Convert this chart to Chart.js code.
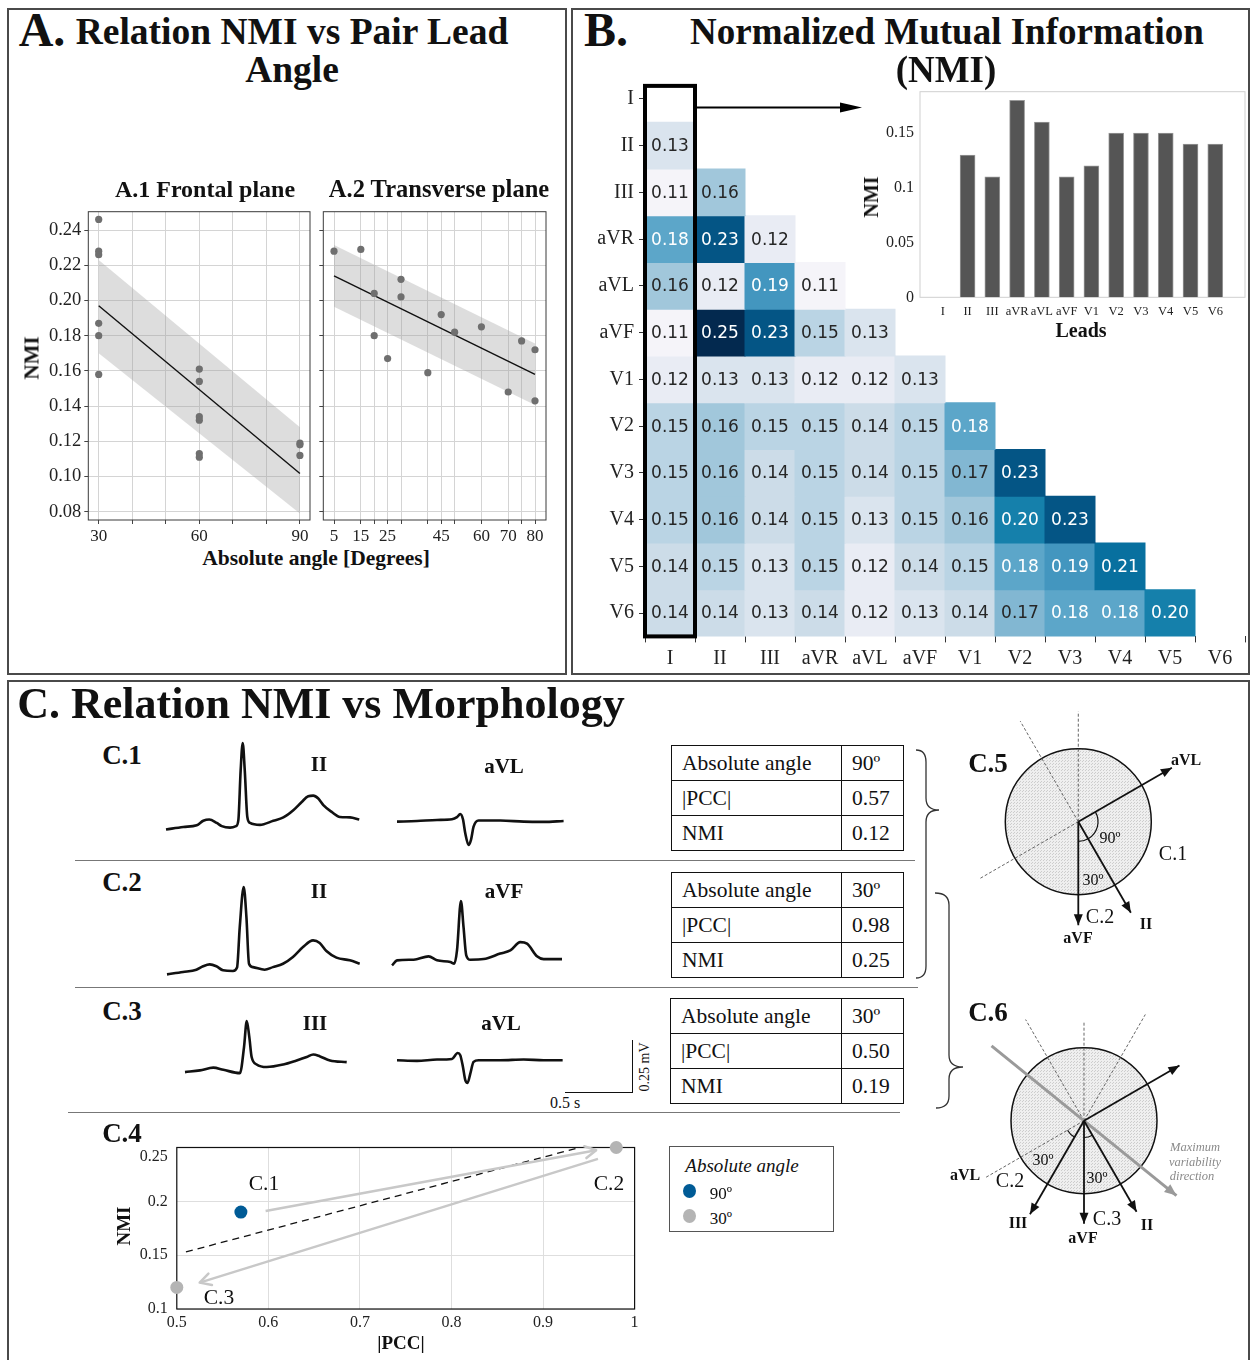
<!DOCTYPE html>
<html>
<head>
<meta charset="utf-8">
<title>NMI vs lead angle and morphology</title>
<script src="https://cdn.jsdelivr.net/npm/chart.js@4.4.1/dist/chart.umd.min.js"></script>
<style>
  body { margin: 0; background: #fff; }
  #page { position: relative; width: 1250px; height: 1360px; overflow: hidden; background: #fff;
          font-family: 'Liberation Serif', serif; color: #111; }
  #page canvas { position: absolute; }
  .frame { position: absolute; border: 2px solid #4a4a4a; box-sizing: border-box; }
  .lbl { position: absolute; white-space: nowrap; line-height: 1; }
  .rule { position: absolute; height: 0; border-top: 1.5px solid #777; }
  table.tb { position: absolute; border-collapse: collapse; font-size: 21.5px; }
  table.tb td { border: 1.5px solid #111; height: 34px; padding: 0 0 0 10px; }
  .dot { position: absolute; width: 13px; height: 14px; border-radius: 50%; }
</style>
</head>
<body>
<div id="page">
  <div class="frame" style="left:7px;top:8px;width:560px;height:667px"></div>
  <div class="frame" style="left:571px;top:8px;width:679px;height:667px"></div>
  <div class="frame" style="left:7px;top:680px;width:1243px;height:690px"></div>

  <div class="rule" style="left:75px;top:860px;width:840px"></div>
  <div class="rule" style="left:75px;top:987px;width:843px"></div>
  <div class="rule" style="left:68px;top:1112px;width:832px"></div>

  <!-- ECG scale bar -->
  <div style="position:absolute;left:565px;top:1092px;width:68px;border-top:1.5px solid #111"></div>
  <div style="position:absolute;left:632px;top:1040px;height:53px;border-left:1.5px solid #111"></div>

  <table class="tb" style="left:671px;top:745px;width:233px">
    <tr><td style="width:159px">Absolute angle</td><td>90º</td></tr>
    <tr><td>|PCC|</td><td>0.57</td></tr>
    <tr><td>NMI</td><td>0.12</td></tr>
  </table>
  <table class="tb" style="left:671px;top:872px;width:233px">
    <tr><td style="width:159px">Absolute angle</td><td>30º</td></tr>
    <tr><td>|PCC|</td><td>0.98</td></tr>
    <tr><td>NMI</td><td>0.25</td></tr>
  </table>
  <table class="tb" style="left:670px;top:998px;width:234px">
    <tr><td style="width:160px">Absolute angle</td><td>30º</td></tr>
    <tr><td>|PCC|</td><td>0.50</td></tr>
    <tr><td>NMI</td><td>0.19</td></tr>
  </table>

  <svg style="position:absolute;left:0;top:0" width="1250" height="1360">
    <path d="M916,750 Q926,750 926,762 L926,798 Q926,810 939,810 Q926,810 926,822 L926,966 Q926,978 916,978"
          fill="none" stroke="#333" stroke-width="1.3"/>
    <path d="M935,893 Q949,893 949,905 L949,1055 Q949,1067 963,1067 Q949,1067 949,1079 L949,1096 Q949,1108 936,1108"
          fill="none" stroke="#333" stroke-width="1.3"/>
  </svg>

  <!-- C.4 legend -->
  <div style="position:absolute;left:669px;top:1146px;width:165px;height:86px;border:1px solid #555;box-sizing:border-box"></div>
  <div class="dot" style="left:683px;top:1184px;background:#005b96"></div>
  <div class="dot" style="left:683px;top:1209px;background:#b4b4b4"></div>
</div>

<script>
// ── Data ──
const leads = ['I', 'II', 'III', 'aVR', 'aVL', 'aVF', 'V1', 'V2', 'V3', 'V4', 'V5', 'V6'];

// A.1 frontal plane
const frontAngle  = [30, 30, 30, 30, 30, 30, 60, 60, 60, 60, 60, 60, 90, 90, 90];
const frontNmi    = [0.246, 0.228, 0.226, 0.187, 0.180, 0.158, 0.161, 0.154, 0.134, 0.132, 0.113, 0.111, 0.119, 0.118, 0.112];
const frontFitX   = [30, 90];
const frontFitY   = [0.197, 0.1017];
const frontBandHi = [0.223, 0.128];
const frontBandLo = [0.170, 0.079];
const frontTicks  = [30, 40, 50, 60, 70, 80, 90];
const frontLabels = [30, 60, 90];

// A.2 transverse plane
const transAngle  = [5, 15, 20, 20, 25, 30, 30, 40, 45, 50, 60, 70, 75, 80, 80];
const transNmi    = [0.228, 0.229, 0.204, 0.180, 0.167, 0.212, 0.202, 0.159, 0.192, 0.182, 0.185, 0.148, 0.177, 0.172, 0.143];
const transFitX   = [5, 80];
const transFitY   = [0.214, 0.158];
const transBandHi = [0.2315, 0.1756];
const transBandLo = [0.1964, 0.1406];
const transTicks  = [5, 15, 20, 25, 30, 40, 45, 50, 60, 70, 75, 80];
const transLabels = [5, 15, 25, 45, 60, 70, 80];

const nmiTicks = [0.08, 0.10, 0.12, 0.14, 0.16, 0.18, 0.20, 0.22, 0.24];

// B. NMI matrix, lower triangle (row lead vs column lead)
const nmiRows = [
  [],
  [0.13],
  [0.11, 0.16],
  [0.18, 0.23, 0.12],
  [0.16, 0.12, 0.19, 0.11],
  [0.11, 0.25, 0.23, 0.15, 0.13],
  [0.12, 0.13, 0.13, 0.12, 0.12, 0.13],
  [0.15, 0.16, 0.15, 0.15, 0.14, 0.15, 0.18],
  [0.15, 0.16, 0.14, 0.15, 0.14, 0.15, 0.17, 0.23],
  [0.15, 0.16, 0.14, 0.15, 0.13, 0.15, 0.16, 0.20, 0.23],
  [0.14, 0.15, 0.13, 0.15, 0.12, 0.14, 0.15, 0.18, 0.19, 0.21],
  [0.14, 0.14, 0.13, 0.14, 0.12, 0.13, 0.14, 0.17, 0.18, 0.18, 0.20]
];
// inset: NMI of lead I against every lead
const leadINmi = [0, 0.13, 0.11, 0.18, 0.16, 0.11, 0.12, 0.15, 0.15, 0.15, 0.14, 0.14];
const insetTicks = [0, 0.05, 0.1, 0.15];

// C. ECG beats (time s, amplitude mV)
const c1IIt  = [0, 0.127, 0.226, 0.274, 0.318, 0.373, 0.410, 0.471, 0.515, 0.532, 0.549, 0.564, 0.579, 0.598, 0.618, 0.691, 0.789, 0.863, 0.936, 0.998, 1.046, 1.083, 1.120, 1.157, 1.218, 1.279, 1.353, 1.421];
const c1IIv  = [0, 0.012, 0.020, 0.041, 0.047, 0.031, 0.016, 0.009, 0.016, 0.044, 0.280, 0.408, 0.280, 0.059, 0.031, 0.022, 0.041, 0.057, 0.091, 0.130, 0.157, 0.160, 0.146, 0.115, 0.083, 0.059, 0.057, 0.047];
const c1aVLt = [0, 0.147, 0.294, 0.404, 0.441, 0.465, 0.485, 0.502, 0.526, 0.544, 0.563, 0.600, 0.760, 0.931, 1.078, 1.225];
const c1aVLv = [0, 0.003, 0.008, 0.011, 0.021, 0.036, 0.011, -0.055, -0.110, -0.086, -0.024, 0.005, 0.005, 0, -0.001, 0.003];
const c2IIt  = [0, 0.118, 0.216, 0.265, 0.314, 0.363, 0.412, 0.485, 0.515, 0.535, 0.564, 0.584, 0.603, 0.632, 0.718, 0.779, 0.853, 0.926, 1.000, 1.074, 1.123, 1.172, 1.246, 1.344, 1.417];
const c2IIv  = [0, 0.011, 0.022, 0.038, 0.047, 0.038, 0.019, 0.016, 0.032, 0.223, 0.412, 0.270, 0.050, 0.034, 0.022, 0.034, 0.050, 0.082, 0.129, 0.160, 0.148, 0.110, 0.079, 0.066, 0.050];
const c2aVFt = [0, 0.037, 0.159, 0.269, 0.331, 0.429, 0.458, 0.478, 0.507, 0.526, 0.546, 0.576, 0.674, 0.796, 0.870, 0.943, 0.993, 1.066, 1.115, 1.250];
const c2aVFv = [-0.024, 0, 0.003, 0.019, 0, -0.008, -0.016, 0.047, 0.280, 0.157, 0.024, 0.003, 0.006, 0.032, 0.047, 0.086, 0.079, 0.019, 0.006, 0.006];
const c3IIIt = [0, 0.110, 0.208, 0.282, 0.404, 0.434, 0.454, 0.473, 0.490, 0.527, 0.601, 0.723, 0.821, 0.895, 0.943, 0.993, 1.066, 1.189];
const c3IIIv = [0, 0.008, 0.021, 0.011, -0.005, 0.118, 0.241, 0.165, 0.071, 0.036, 0.024, 0.036, 0.055, 0.071, 0.083, 0.074, 0.055, 0.047];
const c3aVLt = [0, 0.147, 0.294, 0.404, 0.446, 0.465, 0.485, 0.502, 0.519, 0.539, 0.563, 0.600, 0.760, 0.931, 1.078, 1.218];
const c3aVLv = [0, -0.003, 0.003, 0.006, 0.034, 0.024, -0.032, -0.094, -0.107, -0.063, -0.008, 0, 0, 0.003, 0, 0];

// C.4 |PCC| vs NMI
const pairNames = ['C.1', 'C.2', 'C.3'];
const pairPcc   = [0.57, 0.98, 0.50];
const pairNmi   = [0.19, 0.25, 0.12];
const pairAngle = [90, 30, 30];
const fitPcc    = [0.51, 0.94];
const fitNmi    = [0.153, 0.25];
const moveFromPcc = [0.597, 0.960];
const moveFromNmi = [0.191, 0.2394];
const moveToPcc   = [0.958, 0.525];
const moveToNmi   = [0.2475, 0.1245];
const pccTicks = [0.5, 0.6, 0.7, 0.8, 0.9, 1];
const pairNmiTicks = [0.1, 0.15, 0.2, 0.25];

// C.5 / C.6 hexaxial sketches (angles in degrees, clockwise from lead I)
const c5RayAngles  = [-30, 60, 90];
const c5RayLens    = [1.48, 1.44, 1.42];
const c5DashAngles = [-90, -120, 150];
const c5DashLens   = [1.51, 1.59, 1.55];
const c5Arcs       = [[-30, 60, 0.27], [60, 90, 0.27]];
const c6RayAngles  = [-30, 120, 90, 60];
const c6RayLens    = [1.51, 1.48, 1.41, 1.44];
const c6DashAngles = [-90, -120, -60, 150];
const c6DashLens   = [1.36, 1.60, 1.68, 1.55];
const c6Arcs       = [[120, 150, 0.26], [60, 90, 0.23]];
const c6MaxVarAngle = 39;
const c6MaxVarLen   = 1.63;

// ── Helpers ──
const $ = id => document.getElementById(id);
const page = $('page');
const SERIF = "'Liberation Serif', serif";

Chart.defaults.font.family = SERIF;
Chart.defaults.color = '#222';
Chart.defaults.animation = false;
Chart.defaults.responsive = false;
Chart.defaults.plugins.legend.display = false;
Chart.defaults.plugins.tooltip.enabled = false;

function mkCanvas(id, left, top, w, h) {
  const c = document.createElement('canvas');
  c.id = id; c.width = w; c.height = h;
  c.style.left = left + 'px'; c.style.top = top + 'px';
  c.style.width = w + 'px'; c.style.height = h + 'px';
  page.appendChild(c);
  return c.getContext('2d');
}

function label(txt, x, y, css, rot) {
  const d = document.createElement('div');
  d.className = 'lbl';
  d.textContent = txt;
  d.style.cssText = css || '';
  d.style.left = x + 'px';
  d.style.top = y + 'px';
  d.style.transform = 'translate(-50%,-50%)' + (rot ? ' rotate(' + rot + 'deg)' : '');
  page.appendChild(d);
}

const pts = (xs, ys) => xs.map((x, i) => ({ x, y: ys[i] }));
const ticksOf = vals => s => { s.ticks = vals.map(value => ({ value })); };
// fixed axis sizes, and no extra room for labels poking past the plot ends
const fixY = w => s => { s.width = w; s.paddingTop = 0; s.paddingBottom = 0; };
const fixX = h => s => { s.height = h; s.paddingLeft = 0; s.paddingRight = 0; };

// box round the plot area
const framePlugin = {
  id: 'frame',
  beforeDatasetsDraw(chart, args, opts) {
    if (!opts.color) return;
    const { ctx, chartArea: a } = chart;
    ctx.save();
    ctx.strokeStyle = opts.color;
    ctx.lineWidth = opts.width || 1;
    ctx.strokeRect(a.left, a.top, a.right - a.left, a.bottom - a.top);
    ctx.restore();
  }
};

// arrow heads on the last segment of flagged datasets
const arrowPlugin = {
  id: 'arrowHeads',
  afterDatasetsDraw(chart) {
    const ctx = chart.ctx;
    chart.data.datasets.forEach((ds, i) => {
      if (!ds.arrowHead) return;
      const p = chart.getDatasetMeta(i).data;
      const a = p[p.length - 2], b = p[p.length - 1];
      const ang = Math.atan2(b.y - a.y, b.x - a.x);
      const L = ds.arrowLen || 10, W = ds.arrowHalf || 4;
      ctx.save();
      ctx.translate(b.x, b.y);
      ctx.rotate(ang);
      ctx.beginPath();
      if (ds.arrowHead === 'open') {
        ctx.moveTo(-L, -W); ctx.lineTo(0, 0); ctx.lineTo(-L, W);
        ctx.strokeStyle = ds.borderColor; ctx.lineWidth = ds.borderWidth;
        ctx.lineCap = 'round'; ctx.lineJoin = 'round';
        ctx.stroke();
      } else {
        ctx.moveTo(0, 0); ctx.lineTo(-L, -W); ctx.lineTo(-L, W); ctx.closePath();
        ctx.fillStyle = ds.borderColor;
        ctx.fill();
      }
      ctx.restore();
    });
  }
};
Chart.register(framePlugin, arrowPlugin);

// ── A. NMI vs pair lead angle ──
function anglePlot(id, box, o) {
  const ctx = mkCanvas(id, box.left, box.top, box.w, box.h);
  const gridCfg = { color: '#d4d4d4', tickColor: '#444', tickLength: 4 };
  return new Chart(ctx, {
    type: 'scatter',
    data: { datasets: [
      { data: pts(o.x, o.y), pointRadius: 3.6, pointBackgroundColor: '#6f6f6f', pointBorderWidth: 0 },
      { data: pts(o.fitX, o.fitY), showLine: true, borderColor: '#111', borderWidth: 1.4, pointRadius: 0 },
      { data: pts(o.fitX, o.hi), showLine: true, borderColor: 'transparent', pointRadius: 0,
        fill: '+1', backgroundColor: 'rgba(160,160,160,0.36)' },
      { data: pts(o.fitX, o.lo), showLine: true, borderColor: 'transparent', pointRadius: 0 }
    ]},
    options: {
      layout: { padding: { top: box.pt, right: box.pr } },
      plugins: { frame: { color: '#3a3a3a', width: 1 } },
      scales: {
        x: {
          min: o.xMin, max: o.xMax,
          afterBuildTicks: ticksOf(o.xTicks),
          afterFit: fixX(25),
          grid: gridCfg, border: { display: false },
          ticks: { autoSkip: false, maxRotation: 0, padding: 2, font: { size: 17 },
                   callback: v => o.xLabels.includes(v) ? String(v) : '' }
        },
        y: {
          min: 0.0753, max: 0.2504,
          afterBuildTicks: ticksOf(nmiTicks),
          afterFit: fixY(box.yw),
          grid: gridCfg, border: { display: false },
          ticks: { autoSkip: false, padding: 3, font: { size: 18.5 },
                   callback: v => o.showY ? v.toFixed(2) : '' }
        }
      }
    }
  });
}

anglePlot('a1', { left: 30, top: 200, w: 290, h: 345, pt: 11.7, pr: 10, yw: 58.3 }, {
  x: frontAngle, y: frontNmi, fitX: frontFitX, fitY: frontFitY, hi: frontBandHi, lo: frontBandLo,
  xMin: 26.9, xMax: 93, xTicks: frontTicks, xLabels: frontLabels, showY: true
});
anglePlot('a2', { left: 315, top: 200, w: 241, h: 345, pt: 11.7, pr: 10, yw: 8.3 }, {
  x: transAngle, y: transNmi, fitX: transFitX, fitY: transFitY, hi: transBandHi, lo: transBandLo,
  xMin: 1, xMax: 84.1, xTicks: transTicks, xLabels: transLabels, showY: false
});

// ── B. NMI heatmap ──
const heatStops = [
  [0.11, '#f5f4f9'], [0.12, '#e9ecf4'], [0.13, '#dae4ee'], [0.14, '#ccdce8'], [0.15, '#bad4e4'],
  [0.16, '#a1c7db'], [0.17, '#82b7d2'], [0.18, '#5ca6c9'], [0.19, '#4396bf'], [0.20, '#1580ab'],
  [0.21, '#08709f'], [0.23, '#045585'], [0.25, '#03294f']
];
function hexRgb(h) { return [1, 3, 5].map(i => parseInt(h.substr(i, 2), 16)); }
function heatColor(v) {
  if (v <= heatStops[0][0]) return heatStops[0][1];
  for (let k = 1; k < heatStops.length; k++) {
    const [v1, c1] = heatStops[k];
    if (v <= v1) {
      const [v0, c0] = heatStops[k - 1];
      const t = (v - v0) / (v1 - v0);
      const a = hexRgb(c0), b = hexRgb(c1);
      return 'rgb(' + a.map((x, n) => Math.round(x + (b[n] - x) * t)).join(',') + ')';
    }
  }
  return heatStops[heatStops.length - 1][1];
}

const heatLabels = {
  id: 'heatLabels',
  afterDatasetsDraw(chart) {
    const { ctx, scales: { x, y } } = chart;
    ctx.save();
    ctx.font = '17px "DejaVu Sans", sans-serif';
    ctx.textAlign = 'center';
    ctx.textBaseline = 'middle';
    nmiRows.forEach((row, i) => row.forEach((v, j) => {
      ctx.fillStyle = v >= 0.18 ? '#ffffff' : '#262626';
      ctx.fillText(v.toFixed(2), x.getPixelForValue(j), y.getPixelForValue(i) + 1);
    }));
    // highlighted lead I column and pointer to the inset
    const half = (x.getPixelForValue(1) - x.getPixelForValue(0)) / 2;
    const left = x.getPixelForValue(0) - half, right = x.getPixelForValue(0) + half;
    const top = y.getPixelForValue(-0.28), bottom = y.getPixelForValue(11.5);
    ctx.strokeStyle = '#000';
    ctx.lineWidth = 4;
    ctx.strokeRect(left, top, right - left, bottom - top);
    const ay = y.getPixelForValue(0.18), ax = x.getPixelForValue(3.84);
    ctx.lineWidth = 2;
    ctx.beginPath(); ctx.moveTo(right, ay); ctx.lineTo(ax - 14, ay); ctx.stroke();
    ctx.fillStyle = '#000';
    ctx.beginPath(); ctx.moveTo(ax, ay); ctx.lineTo(ax - 22, ay - 5); ctx.lineTo(ax - 22, ay + 5); ctx.closePath(); ctx.fill();
    ctx.restore();
  }
};

new Chart(mkCanvas('heat', 590, 70, 660, 610), {
  type: 'bar',
  data: {
    labels: leads,
    datasets: leads.map((_, i) => ({
      data: leads.map((_, j) => j < i ? [i - 0.5, i + 0.5] : null),
      backgroundColor: leads.map((_, j) => j < i ? heatColor(nmiRows[i][j]) : 'rgba(0,0,0,0)'),
      borderWidth: 0, inflateAmount: 0.5,
      grouped: false, barPercentage: 1, categoryPercentage: 1
    }))
  },
  options: {
    layout: { padding: { top: 5.6, right: 5 } },
    scales: {
      x: {
        afterFit: fixX(43.6),
        grid: { drawOnChartArea: false, tickColor: '#333', tickLength: 6 },
        border: { display: false },
        ticks: { padding: 4, font: { size: 20 } }
      },
      y: {
        reverse: true, min: -0.5, max: 11.5,
        afterBuildTicks: ticksOf(leads.map((_, i) => i)),
        afterFit: fixY(55),
        grid: { drawOnChartArea: false, tickColor: '#333', tickLength: 6 },
        border: { display: false },
        ticks: { padding: 5, font: { size: 20 }, callback: v => leads[v] }
      }
    }
  },
  plugins: [heatLabels]
});

// inset bar chart, lead I against the others
new Chart(mkCanvas('inset', 850, 85, 400, 262), {
  type: 'bar',
  data: { datasets: [{
    data: pts(leads.map((_, i) => i), leadINmi),
    backgroundColor: '#555555', borderColor: '#999999', borderWidth: 1, barThickness: 15
  }]},
  options: {
    layout: { padding: { top: 6.7, right: 5 } },
    plugins: { frame: { color: '#cfcfcf', width: 1 } },
    scales: {
      x: {
        type: 'linear', min: -0.92, max: 12.2, offset: false,
        afterBuildTicks: ticksOf(leads.map((_, i) => i)),
        afterFit: fixX(49.7),
        grid: { display: false, drawTicks: false }, border: { display: false },
        ticks: { autoSkip: false, maxRotation: 0, padding: 7, font: { size: 12.5 }, callback: v => leads[v] }
      },
      y: {
        min: 0, max: 0.1878,
        afterBuildTicks: ticksOf(insetTicks),
        afterFit: fixY(70),
        grid: { display: false, drawTicks: false }, border: { display: false },
        ticks: { padding: 6, font: { size: 16 }, callback: v => String(+v.toFixed(2)) }
      }
    }
  }
});

// ── C. ECG beats ──
const PX_PER_S = 136, PX_PER_MV = 212;
function ecgTrace(id, t, v, left, baseY) {
  const pad = 4;
  const vmin = Math.min(...v), vmax = Math.max(...v), tmax = t[t.length - 1];
  const w = Math.ceil(tmax * PX_PER_S) + 2 * pad;
  const h = Math.ceil((vmax - vmin) * PX_PER_MV) + 2 * pad;
  const top = baseY - vmax * PX_PER_MV - pad;
  const yTop = vmax + pad / PX_PER_MV;
  new Chart(mkCanvas(id, left - pad, top, w, h), {
    type: 'scatter',
    data: { datasets: [{ data: pts(t, v), showLine: true, borderColor: '#111', borderWidth: 2.6,
                         pointRadius: 0, cubicInterpolationMode: 'monotone' }] },
    options: {
      scales: {
        x: { display: false, min: -pad / PX_PER_S, max: (w - pad) / PX_PER_S },
        y: { display: false, min: yTop - h / PX_PER_MV, max: yTop }
      }
    }
  });
}
ecgTrace('c1II',  c1IIt,  c1IIv,  166,   829.3);
ecgTrace('c1aVL', c1aVLt, c1aVLv, 396.7, 821.7);
ecgTrace('c2II',  c2IIt,  c2IIv,  167.3, 974);
ecgTrace('c2aVF', c2aVFt, c2aVFv, 391.7, 960);
ecgTrace('c3III', c3IIIt, c3IIIv, 185,   1071.7);
ecgTrace('c3aVL', c3aVLt, c3aVLv, 396.7, 1060);

// ── C.4 |PCC| vs NMI ──
const angleColor = { 90: '#005b96', 30: '#b4b4b4' };
const topNmiTick = pairNmiTicks[pairNmiTicks.length - 1];
new Chart(mkCanvas('c4', 110, 1140, 540, 200), {
  type: 'scatter',
  data: { datasets: [
    { data: pts(pairPcc, pairNmi), pointRadius: 6.5, borderWidth: 0,
      pointBackgroundColor: pairAngle.map(a => angleColor[a]), clip: false },
    ...moveFromPcc.map((p, k) => ({
      data: [{ x: p, y: moveFromNmi[k] }, { x: moveToPcc[k], y: moveToNmi[k] }],
      showLine: true, borderColor: '#c8c8c8', borderWidth: 2.5, pointRadius: 0,
      arrowHead: 'open', arrowLen: 11, arrowHalf: 6, clip: false
    })),
    { data: pts(fitPcc, fitNmi), showLine: true, borderColor: '#111', borderWidth: 1.3,
      borderDash: [7, 5], pointRadius: 0 }
  ]},
  options: {
    layout: { padding: { top: 7.5, right: 15.4 } },
    plugins: { frame: { color: '#111', width: 1.2 } },
    scales: {
      x: {
        min: 0.5, max: 1,
        afterBuildTicks: ticksOf(pccTicks),
        afterFit: fixX(31),
        grid: { color: '#dedede', drawTicks: false }, border: { display: false },
        ticks: { padding: 4, font: { size: 16 }, callback: v => String(+v.toFixed(2)) }
      },
      y: {
        min: 0.1, max: 0.25,
        afterBuildTicks: ticksOf(pairNmiTicks),
        afterFit: fixY(66.8),
        grid: { color: '#dedede', drawTicks: false }, border: { display: false },
        // the top label sits a little inside the box, as in the original
        ticks: { padding: 9, font: { size: 16 },
                 callback: v => v === topNmiTick ? ['', String(v)] : String(+v.toFixed(2)) }
      }
    }
  }
});

// ── C.5 / C.6 lead axis sketches ──
const dotPattern = (() => {
  const p = document.createElement('canvas');
  p.width = p.height = 3;
  const c = p.getContext('2d');
  c.fillStyle = '#efefef'; c.fillRect(0, 0, 3, 3);
  c.fillStyle = '#cdcdcd'; c.fillRect(0, 0, 1, 1); c.fillRect(2, 1, 1, 1);
  return p;
})();

const sketchPlugin = {
  id: 'sketch',
  beforeDatasetsDraw(chart) {
    const { ctx, scales: { x, y } } = chart;
    const cx = x.getPixelForValue(0), cy = y.getPixelForValue(0);
    const r = x.getPixelForValue(1) - cx;
    ctx.save();
    ctx.beginPath(); ctx.arc(cx, cy, r, 0, Math.PI * 2);
    ctx.fillStyle = ctx.createPattern(dotPattern, 'repeat');
    ctx.fill();
    ctx.strokeStyle = '#111'; ctx.lineWidth = 1.5; ctx.stroke();
    ctx.restore();
  },
  afterDatasetsDraw(chart) {
    const { ctx, scales: { x, y } } = chart;
    const cx = x.getPixelForValue(0), cy = y.getPixelForValue(0);
    const r = x.getPixelForValue(1) - cx;
    ctx.save();
    ctx.strokeStyle = '#111'; ctx.lineWidth = 1.2;
    chart.options.plugins.sketch.arcs.forEach(([a0, a1, rr]) => {
      ctx.beginPath();
      ctx.arc(cx, cy, rr * r, a0 * Math.PI / 180, a1 * Math.PI / 180);
      ctx.stroke();
    });
    ctx.restore();
  }
};

function ray(deg, len, back) {
  const a = deg * Math.PI / 180;
  const start = back ? { x: -back * Math.cos(a), y: -back * Math.sin(a) } : { x: 0, y: 0 };
  return [start, { x: len * Math.cos(a), y: len * Math.sin(a) }];
}

function leadSketch(id, left, top, w, h, cx, cy, r, s) {
  const datasets = [];
  s.rayAngles.forEach((a, i) => datasets.push({
    data: ray(a, s.rayLens[i]), showLine: true, borderColor: '#111', borderWidth: 1.8,
    pointRadius: 0, arrowHead: 'filled', arrowLen: 11, arrowHalf: 4.5
  }));
  if (s.maxVarAngle !== undefined) datasets.push({
    data: ray(s.maxVarAngle, s.maxVarLen, s.maxVarLen), showLine: true, borderColor: '#9a9a9a',
    borderWidth: 3, pointRadius: 0, arrowHead: 'filled', arrowLen: 12, arrowHalf: 5
  });
  s.dashAngles.forEach((a, i) => datasets.push({
    data: ray(a, s.dashLens[i]), showLine: true, borderColor: '#555', borderWidth: 0.9,
    borderDash: [3, 2], pointRadius: 0
  }));
  new Chart(mkCanvas(id, left, top, w, h), {
    type: 'scatter',
    data: { datasets },
    options: {
      plugins: { sketch: { arcs: s.arcs } },
      scales: {
        x: { display: false, min: -cx / r, max: (w - cx) / r },
        y: { display: false, reverse: true, min: -cy / r, max: (h - cy) / r }
      }
    },
    plugins: [sketchPlugin]
  });
}

leadSketch('c5', 960, 700, 270, 250, 118.3, 121.7, 73, {
  rayAngles: c5RayAngles, rayLens: c5RayLens, dashAngles: c5DashAngles, dashLens: c5DashLens, arcs: c5Arcs
});
leadSketch('c6', 960, 995, 270, 260, 124, 125.7, 73, {
  rayAngles: c6RayAngles, rayLens: c6RayLens, dashAngles: c6DashAngles, dashLens: c6DashLens, arcs: c6Arcs,
  maxVarAngle: c6MaxVarAngle, maxVarLen: c6MaxVarLen
});

// ── Texts ──
const B = 'font-weight:bold;';
label('A.', 42, 30, B + 'font-size:48px');
label('Relation NMI vs Pair Lead', 292, 32, B + 'font-size:37.5px');
label('Angle', 292, 70, B + 'font-size:37.5px');
label('A.1 Frontal plane', 205, 189, B + 'font-size:24px');
label('A.2 Transverse plane', 439, 189, B + 'font-size:24.5px');
label('NMI', 32, 358, B + 'font-size:21px', -90);
label('Absolute angle [Degrees]', 316, 559, B + 'font-size:21.5px');

label('B.', 606, 30, B + 'font-size:48px');
label('Normalized Mutual Information', 947, 31, B + 'font-size:37px');
label('(NMI)', 946, 69, B + 'font-size:37px');
label('NMI', 871, 197, B + 'font-size:20px', -90);
label('Leads', 1081, 330, B + 'font-size:20px');

label('C. Relation NMI vs Morphology', 321, 704, B + 'font-size:44px');
label('C.1', 122, 755, B + 'font-size:27px');
label('C.2', 122, 882, B + 'font-size:27px');
label('C.3', 122, 1011, B + 'font-size:27px');
label('C.4', 122, 1133, B + 'font-size:27px');
label('II', 319, 764, B + 'font-size:21px');
label('aVL', 504, 766, B + 'font-size:21px');
label('II', 319, 891, B + 'font-size:21px');
label('aVF', 504, 891, B + 'font-size:21px');
label('III', 315, 1023, B + 'font-size:21px');
label('aVL', 501, 1023, B + 'font-size:21px');
label('0.5 s', 565, 1103, 'font-size:16px');
label('0.25 mV', 645, 1067, 'font-size:14px', -90);

label('NMI', 123, 1226, B + 'font-size:19px', -90);
label('|PCC|', 401, 1342, B + 'font-size:19px');
label('C.1', 264, 1184, 'font-size:21.5px');
label('C.2', 609, 1184, 'font-size:21.5px');
label('C.3', 219, 1298, 'font-size:21.5px');
label('Absolute angle', 742, 1165, 'font-style:italic;font-size:19px');
label('90º', 721, 1193, 'font-size:17px');
label('30º', 721, 1218, 'font-size:17px');

label('C.5', 988, 763, B + 'font-size:27px');
label('aVL', 1186, 760, B + 'font-size:16px');
label('C.1', 1173, 853, 'font-size:20px');
label('90º', 1110, 838, 'font-size:16px');
label('30º', 1093, 880, 'font-size:16px');
label('C.2', 1100, 916, 'font-size:20px');
label('aVF', 1078, 938, B + 'font-size:16px');
label('II', 1146, 924, B + 'font-size:16px');

label('C.6', 988, 1012, B + 'font-size:27px');
label('aVL', 965, 1175, B + 'font-size:16px');
label('C.2', 1010, 1180, 'font-size:20px');
label('30º', 1043, 1160, 'font-size:16px');
label('30º', 1097, 1178, 'font-size:16px');
label('III', 1018, 1223, B + 'font-size:16px');
label('aVF', 1083, 1238, B + 'font-size:16px');
label('C.3', 1107, 1218, 'font-size:20px');
label('II', 1147, 1225, B + 'font-size:16px');
label('Maximum', 1195, 1147, 'font-style:italic;font-size:12.5px;color:#8a8a8a');
label('variability', 1195, 1162, 'font-style:italic;font-size:12.5px;color:#8a8a8a');
label('direction', 1192, 1176, 'font-style:italic;font-size:12.5px;color:#8a8a8a');
</script>
</body>
</html>
